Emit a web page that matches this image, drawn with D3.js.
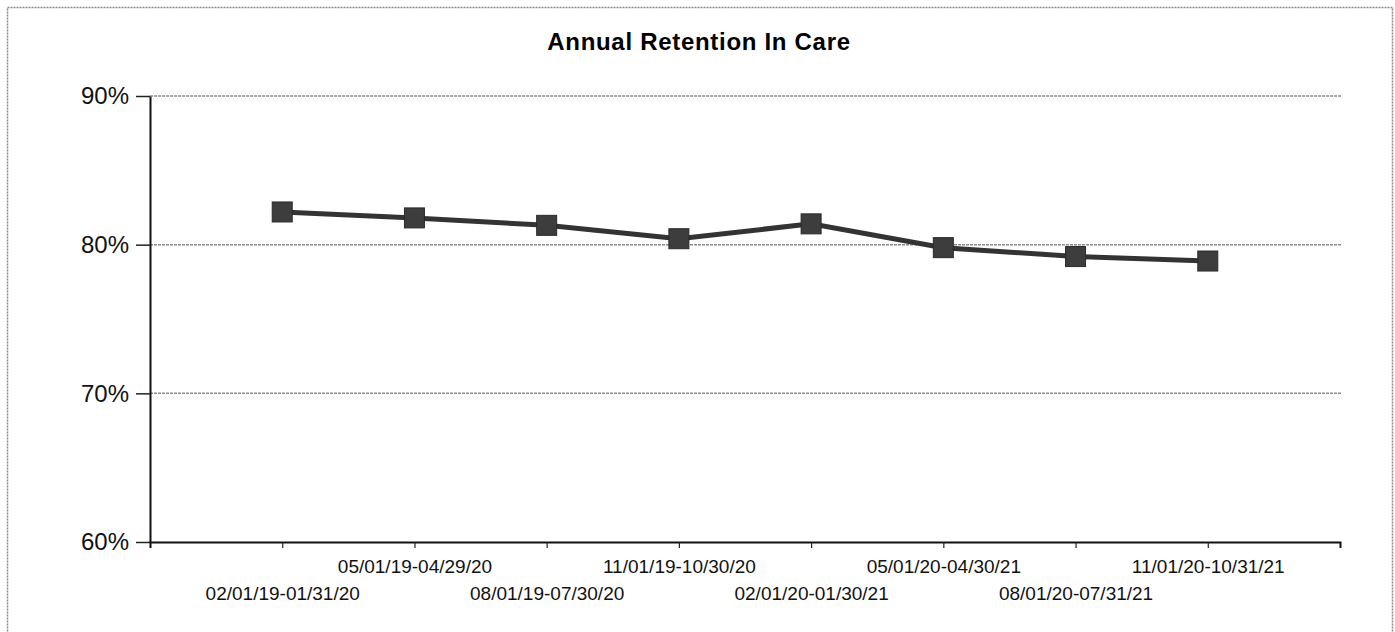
<!DOCTYPE html>
<html>
<head>
<meta charset="utf-8">
<script src="https://cdn.jsdelivr.net/npm/d3@7"></script>
<style>
    html, body { margin: 0; padding: 0; background: #fff; }
    svg { display: block; font-family: "Liberation Sans", Arial, sans-serif; }
</style>
</head>
<body>
<div id="chart"></div>
<script>
(function () {

    /* data */
    var PERIODS = [
        "02/01/19-01/31/20", "05/01/19-04/29/20", "08/01/19-07/30/20", "11/01/19-10/30/20",
        "02/01/20-01/30/21", "05/01/20-04/30/21", "08/01/20-07/31/21", "11/01/20-10/31/21"
    ];
    var RETENTION = [82.2, 81.8, 81.3, 80.4, 81.4, 79.8, 79.2, 78.9];
    var Y_TICKS = [60, 70, 80, 90];
    var GRID = [70, 80, 90];
    var TITLE = "Annual Retention In Care";

    var W = 1395, H = 632;
    var LEFT = 150, RIGHT = 1340, TOP = 96, BOTTOM = 542;

    var svg = d3.select("#chart").append("svg")
        .attr("width", W).attr("height", H);

    /* outer frame (bottom edge falls below the picture) */
    svg.append("rect")
        .attr("x", 7.5).attr("y", 7.5)
        .attr("width", 1385).attr("height", 640)
        .attr("fill", "none")
        .attr("stroke", "#8a8a8a")
        .attr("stroke-width", 1.5)
        .attr("stroke-dasharray", "2,1");

    svg.append("text")
        .attr("x", 699).attr("y", 50)
        .attr("text-anchor", "middle")
        .attr("font-size", 24)
        .attr("letter-spacing", 0.7)
        .attr("font-weight", "bold")
        .text(TITLE);

    var x = d3.scalePoint().domain(PERIODS).range([LEFT, RIGHT]).padding(1);
    var y = d3.scaleLinear().domain([60, 90]).range([BOTTOM, TOP]);

    /* gridlines */
    svg.selectAll(".grid")
        .data(GRID)
        .enter().append("line")
        .attr("class", "grid")
        .attr("x1", LEFT).attr("x2", RIGHT + 2)
        .attr("y1", function (d) { return y(d); })
        .attr("y2", function (d) { return y(d); })
        .attr("stroke", "#8c8c8c")
        .attr("stroke-width", 1.5)
        .attr("stroke-dasharray", "3,1");

    /* y axis */
    var yAxis = svg.append("g")
        .attr("transform", "translate(" + LEFT + ",0)")
        .call(d3.axisLeft(y)
            .tickValues(Y_TICKS)
            .tickSizeInner(14)
            .tickSizeOuter(0)
            .tickPadding(7)
            .tickFormat(function (d) { return d + "%"; }));
    yAxis.select(".domain").attr("stroke", "#111").attr("stroke-width", 2);
    yAxis.selectAll(".tick line").attr("stroke", "#222").attr("stroke-width", 1.5);
    yAxis.selectAll(".tick text")
        .attr("font-size", 24)
        .attr("font-family", "Liberation Sans, Arial, sans-serif")
        .attr("fill", "#111");

    /* x axis, labels staggered over two rows */
    var xAxis = svg.append("g")
        .attr("transform", "translate(0," + BOTTOM + ")")
        .call(d3.axisBottom(x).tickSizeInner(6).tickSizeOuter(6));
    xAxis.select(".domain").attr("stroke", "#111").attr("stroke-width", 2);
    xAxis.selectAll(".tick line").attr("stroke", "#222").attr("stroke-width", 1.2);
    xAxis.selectAll(".tick text")
        .attr("dy", 0)
        .attr("y", function (d, i) { return i % 2 ? 31 : 58; })
        .attr("font-size", 19)
        .attr("font-family", "Liberation Sans, Arial, sans-serif")
        .attr("fill", "#111");

    /* series */
    var line = d3.line()
        .x(function (d, i) { return x(PERIODS[i]); })
        .y(function (d) { return y(d); });

    svg.append("path")
        .datum(RETENTION)
        .attr("d", line)
        .attr("fill", "none")
        .attr("stroke", "#333")
        .attr("stroke-width", 5);

    var M = 20;
    svg.selectAll(".marker")
        .data(RETENTION)
        .enter().append("rect")
        .attr("class", "marker")
        .attr("x", function (d, i) { return x(PERIODS[i]) - M / 2; })
        .attr("y", function (d) { return y(d) - M / 2; })
        .attr("width", M).attr("height", M)
        .attr("fill", "#3d3d3d")
        .attr("stroke", "#2a2a2a")
        .attr("stroke-width", 1);

}());
</script>
</body>
</html>
